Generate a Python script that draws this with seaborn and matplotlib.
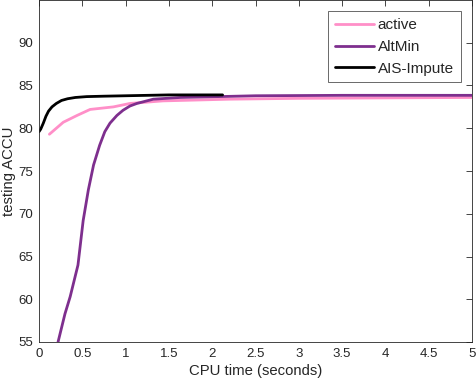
import numpy as np
import pandas as pd
import seaborn as sns
import matplotlib
matplotlib.use("Agg")
import matplotlib.pyplot as plt

# 读图得到的数据
active_t = [0.12, 0.28, 0.44, 0.59, 0.86, 1.05, 1.43, 2.2, 3.0, 4.0, 5.0]
active_acc = [79.3, 80.7, 81.5, 82.2, 82.5, 82.9, 83.2, 83.4, 83.5, 83.55, 83.6]

altmin_t = [0.22, 0.30, 0.36, 0.45, 0.51, 0.57, 0.63, 0.70, 0.76, 0.82, 0.90, 0.97, 1.05, 1.13, 1.32, 1.63, 2.5, 3.5, 5.0]
altmin_acc = [55.0, 58.3, 60.3, 64.0, 69.2, 72.8, 75.7, 78.0, 79.6, 80.6, 81.5, 82.1, 82.6, 82.9, 83.4, 83.6, 83.8, 83.85, 83.85]

ais_t = [0.0, 0.02, 0.05, 0.08, 0.11, 0.15, 0.20, 0.26, 0.33, 0.42, 0.55, 0.75, 1.0, 1.5, 2.12]
ais_acc = [79.6, 79.9, 80.6, 81.4, 82.0, 82.5, 82.9, 83.25, 83.45, 83.6, 83.7, 83.75, 83.8, 83.9, 83.9]

methods = ["active", "AltMin", "AIS-Impute"]
colors = ["#FF8FC8", "#7E2F8E", "#000000"]

df = pd.concat([
    pd.DataFrame({"t": active_t, "acc": active_acc, "method": "active"}),
    pd.DataFrame({"t": altmin_t, "acc": altmin_acc, "method": "AltMin"}),
    pd.DataFrame({"t": ais_t, "acc": ais_acc, "method": "AIS-Impute"}),
])

sns.set_style("white")
plt.rcParams["font.family"] = ["Liberation Sans", "DejaVu Sans"]

fig = plt.figure(figsize=(4.76, 3.87), dpi=100)
ax = fig.add_axes([39 / 476, 45 / 387, 433 / 476, 342 / 387])

sns.lineplot(data=df, x="t", y="acc", hue="method", hue_order=methods,
             palette=colors, linewidth=2, sort=False, estimator=None, ax=ax)

ax.set_xlim(0, 5)
ax.set_ylim(55, 95)
ax.set_xticks(np.arange(0, 5.01, 0.5))
ax.set_xticklabels(["0", "0.5", "1", "1.5", "2", "2.5", "3", "3.5", "4", "4.5", "5"])
ax.set_yticks(np.arange(55, 91, 5))
ax.tick_params(direction="in", top=True, right=True, length=4, width=0.6,
               labelsize=9.5, colors="#262626", pad=4)
for s in ax.spines.values():
    s.set_linewidth(0.6)
    s.set_color("#262626")

ax.set_xlabel("CPU time (seconds)", fontsize=10.7, color="#262626", labelpad=3)
ax.set_ylabel("testing ACCU", fontsize=10.7, color="#262626", labelpad=2)

leg = ax.legend(loc="upper right", fontsize=11, frameon=True, fancybox=False,
                edgecolor="#262626", handlelength=2.6, borderaxespad=0.75,
                handletextpad=0.2, labelspacing=0.5, borderpad=0.45)
leg.get_frame().set_linewidth(0.6)

fig.savefig("out.png", dpi=100)
